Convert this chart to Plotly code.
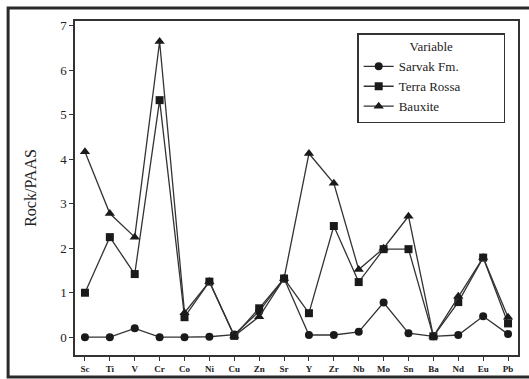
import plotly.graph_objects as go

elements = ["Sc", "Ti", "V", "Cr", "Co", "Ni", "Cu", "Zn", "Sr", "Y", "Zr", "Nb", "Mo", "Sn", "Ba", "Nd", "Eu", "Pb"]
sarvak = [0.0, 0.0, 0.2, 0.0, 0.0, 0.01, 0.06, 0.58, 1.32, 0.05, 0.05, 0.12, 0.78, 0.09, 0.02, 0.05, 0.47, 0.07]
terra_rossa = [1.0, 2.25, 1.42, 5.33, 0.45, 1.25, 0.03, 0.65, 1.32, 0.54, 2.5, 1.24, 1.98, 1.98, 0.02, 0.79, 1.79, 0.31]
bauxite = [4.17, 2.78, 2.25, 6.65, 0.55, 1.25, 0.03, 0.46, 1.32, 4.13, 3.46, 1.52, 2.0, 2.72, 0.02, 0.92, 1.79, 0.45]
y_ticks = [0, 1, 2, 3, 4, 5, 6, 7]

line_col = "#333333"
font_fam = "Liberation Serif"

fig = go.Figure()
series = [("Sarvak Fm.", sarvak, "circle", 8),
          ("Terra Rossa", terra_rossa, "square", 8),
          ("Bauxite", bauxite, "triangle-up", 9)]
for name, vals, sym, sz in series:
    fig.add_trace(go.Scatter(
        x=list(range(len(elements))), y=vals, name=name, mode="lines+markers",
        line=dict(color=line_col, width=1.3),
        marker=dict(symbol=sym, size=sz, color="#1a1a1a"),
    ))

pad = "&nbsp;" * 15
fig.update_layout(
    width=529, height=379,
    margin=dict(l=75, r=11, t=21, b=24, autoexpand=False),
    paper_bgcolor="white", plot_bgcolor="white",
    font=dict(family=font_fam, color="#222222"),
    showlegend=True,
    legend=dict(
        x=0.637, y=0.964, xanchor="left", yanchor="top",
        bgcolor="white", bordercolor=line_col, borderwidth=1.5,
        font=dict(family=font_fam, size=13, color="#222222"),
        title=dict(text=pad + "Variable" + pad, side="top center", font=dict(family=font_fam, size=13)),
        tracegroupgap=2,
    ),
    xaxis=dict(
        range=[-0.4, 17.4], tickmode="array", automargin=False,
        tickvals=list(range(len(elements))), ticktext=["<b>%s</b>" % e for e in elements],
        ticks="outside", ticklen=4, tickcolor=line_col,
        showgrid=False, zeroline=False, showline=True, linecolor=line_col, linewidth=1.5,
        mirror=True, tickfont=dict(family=font_fam, size=9, color="#222222"),
    ),
    yaxis=dict(
        range=[-0.4, 7.11], tickmode="array", tickvals=y_ticks, automargin=False,
        ticks="outside", ticklen=4, tickcolor=line_col,
        showgrid=False, zeroline=False, showline=True, linecolor=line_col, linewidth=1.5,
        mirror=True, tickfont=dict(family=font_fam, size=13, color="#222222"),
        title=dict(text="Rock/PAAS", font=dict(family=font_fam, size=16, color="#222222"), standoff=20),
    ),
)

fig.add_shape(type="rect", xref="paper", yref="paper",
              x0=-0.151, x1=1.05, y0=-0.066, y1=1.039,
              line=dict(color="#2a2a2a", width=3), layer="above")

fig.write_html("out.html")
